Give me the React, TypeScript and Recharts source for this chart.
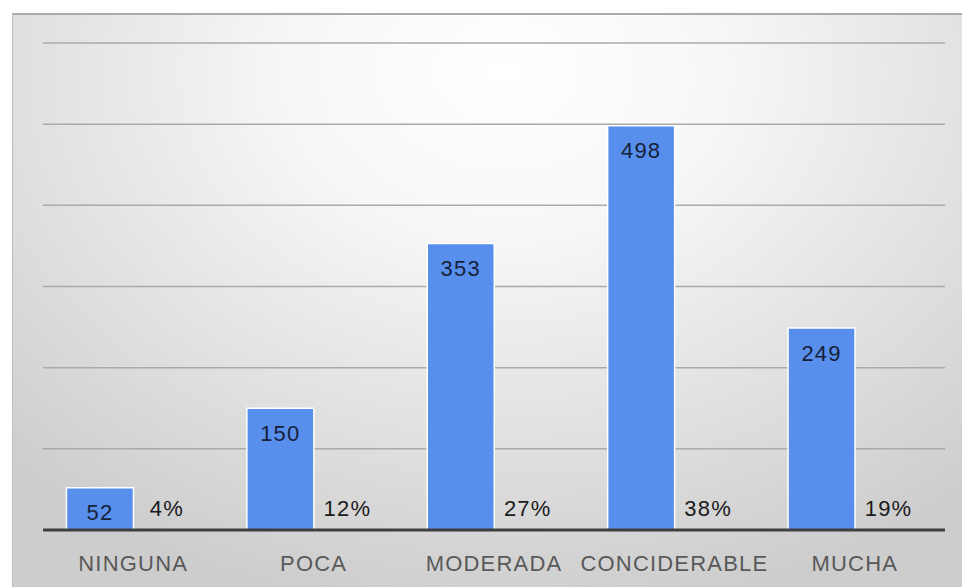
import { Bar, BarChart, CartesianGrid, LabelList, XAxis, YAxis } from 'recharts';

const categories = ['NINGUNA', 'POCA', 'MODERADA', 'CONCIDERABLE', 'MUCHA'];
const counts = [52, 150, 353, 498, 249];
const percents = [4, 12, 27, 38, 19];
const yTicks = [0, 100, 200, 300, 400, 500, 600];

const data = categories.map((name, i) => ({
  name,
  count: counts[i],
  pct: percents[i],
}));

const FONT = '"Liberation Sans", Arial, sans-serif';

// percent labels sit just above the axis, beside each blue bar
const PctLabel = (props: any) => {
  const { x, y, width, height, index } = props;
  const base = Number(y) + Number(height);
  return (
    <text
      x={Number(x) + Number(width) / 2}
      y={base - 14}
      textAnchor="middle"
      fontSize={22}
      letterSpacing={1.2}
      fontFamily={FONT}
      fill="#1a1a1a"
    >
      {`${percents[index]}%`}
    </text>
  );
};

export default function App() {
  return (
    <div style={{ position: 'absolute', left: 0, top: 0, width: 962, height: 587, background: '#fff' }}>
      <div
        style={{
          position: 'absolute',
          left: 12,
          top: 13,
          width: 950,
          height: 574,
          borderTop: '2px solid #ababab',
          borderLeft: '1px solid #bdbdbd',
          boxSizing: 'border-box',
          background:
            'radial-gradient(ellipse 75% 95% at 52% 10%, #ffffff 0%, #f7f7f7 30%, #e2e2e2 65%, #cdcdcd 100%)',
        }}
      />
      <div style={{ position: 'absolute', left: 0, top: 0 }}>
        <BarChart
          width={962}
          height={587}
          data={data}
          margin={{ top: 43, right: 17, left: 43, bottom: 0 }}
          barCategoryGap="13%"
          barGap={0}
        >
          <CartesianGrid vertical={false} stroke="#aaaaaa" strokeWidth={1.5} />
          <YAxis hide domain={[0, 600]} ticks={yTicks} />
          <XAxis
            dataKey="name"
            height={57}
            axisLine={{ stroke: '#3f3f3f', strokeWidth: 3 }}
            tickLine={false}
            tickMargin={19}
            interval={0}
            tick={{ fontSize: 22, fill: '#595959', fontFamily: FONT, letterSpacing: 1.2 }}
          />
          <Bar dataKey="count" fill="#588fec" stroke="#ffffff" strokeWidth={1.5} isAnimationActive={false}>
            <LabelList
              dataKey="count"
              position="insideTop"
              offset={17}
              style={{ fontSize: 22, fill: '#16213a', fontFamily: FONT, letterSpacing: 1.2 }}
            />
          </Bar>
          <Bar dataKey="pct" fill="none" isAnimationActive={false}>
            <LabelList dataKey="pct" content={PctLabel} />
          </Bar>
        </BarChart>
      </div>
    </div>
  );
}
